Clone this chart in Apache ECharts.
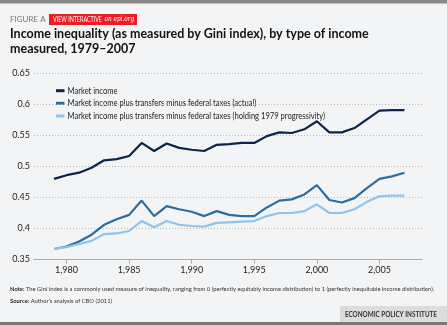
<!DOCTYPE html>
<html><head><meta charset="utf-8">
<script src="https://cdn.jsdelivr.net/npm/echarts@6/dist/echarts.min.js"></script>
<style>html,body{margin:0;padding:0;background:#f3f4f5;}#c{width:447px;height:325px;}</style>
</head><body><div id="c"></div>
<script>
const years = [1979,1980,1981,1982,1983,1984,1985,1986,1987,1988,1989,1990,1991,1992,1993,1994,1995,1996,1997,1998,1999,2000,2001,2002,2003,2004,2005,2006,2007];
const marketIncome = [0.480,0.486,0.490,0.498,0.510,0.512,0.517,0.538,0.525,0.537,0.530,0.527,0.525,0.535,0.536,0.538,0.538,0.549,0.555,0.554,0.560,0.573,0.555,0.555,0.562,0.576,0.590,0.591,0.591];
const actual = [0.367,0.371,0.379,0.390,0.406,0.415,0.422,0.445,0.420,0.436,0.431,0.427,0.420,0.428,0.422,0.420,0.420,0.434,0.445,0.447,0.455,0.470,0.446,0.442,0.449,0.465,0.480,0.484,0.490];
const holding1979 = [0.367,0.370,0.375,0.380,0.391,0.392,0.396,0.412,0.402,0.412,0.406,0.404,0.403,0.409,0.410,0.411,0.412,0.420,0.425,0.425,0.428,0.439,0.425,0.425,0.431,0.443,0.452,0.453,0.453];
const seriesNames = ['Market income','Market income plus transfers minus federal taxes (actual)','Market income plus transfers minus federal taxes (holding 1979 progressivity)'];
const xTickLabels = [1980,1985,1990,1995,2000,2005];
const yTicks = [0.35,0.4,0.45,0.5,0.55,0.6,0.65];
const colors = ['#0b2648','#2b6d9e','#8fc4ee'];

const pair = (arr) => years.map((y,i)=>[y,arr[i]]);
const fontFam = 'Lato, "Open Sans", sans-serif';
const mctx = document.createElement('canvas').getContext('2d');
function measure(text, size, weight){ mctx.font = (weight||'normal')+' '+size+'px '+fontFam; return mctx.measureText(text).width; }

// legend built as graphics (condensed text like the original)
const legendY = [90.7, 103.3, 116];
const legendScale = 0.8;
const legendGraphics = [];
seriesNames.forEach((n,i)=>{
  legendGraphics.push({type:'rect',shape:{x:56,y:legendY[i]-1.5,width:8.5,height:3},style:{fill:colors[i]}});
  legendGraphics.push({type:'text',x:67.5,y:legendY[i],scaleX:legendScale,style:{text:n,fontSize:9.5,fill:'#222',fontFamily:fontFam,verticalAlign:'middle'}});
});

const epiText = 'ECONOMIC POLICY INSTITUTE';
const epiScale = 92 / measure(epiText, 8, 'bold');
const viText = 'VIEW INTERACTIVE ';
const viW = measure(viText, 7) + (()=>{ mctx.font='italic 7.5px "DejaVu Serif", serif'; return mctx.measureText('on epi.org').width; })();
const viScale = 80 / viW;

const chart = echarts.init(document.getElementById('c'), null, {renderer:'canvas'});
chart.setOption({
  backgroundColor:'#f3f4f5',
  animation:false,
  textStyle:{fontFamily:fontFam},
  grid:{left:34,top:73.5,width:388,height:186,containLabel:false},
  xAxis:{
    type:'value', min:1977.4, max:2008.4,
    axisLine:{show:true,lineStyle:{color:'#aaa',width:1}},
    axisTick:{show:true,customValues:xTickLabels,length:4,lineStyle:{color:'#aaa'}},
    axisLabel:{customValues:xTickLabels,fontSize:9,color:'#222',margin:6,fontFamily:fontFam},
    splitLine:{show:false}
  },
  yAxis:{
    type:'value', min:0.35, max:0.65, interval:0.05,
    axisLine:{show:false}, axisTick:{show:false},
    axisLabel:{fontSize:9,color:'#222',margin:4,fontFamily:fontFam,formatter:(v)=>String(+v.toFixed(2))},
    splitLine:{show:true,lineStyle:{color:'#b8b8b8',type:[1,2],width:1}}
  },
  series:[
    {name:seriesNames[0],type:'line',data:pair(marketIncome),showSymbol:false,lineStyle:{width:2.2,color:colors[0]},itemStyle:{color:colors[0]}},
    {name:seriesNames[1],type:'line',data:pair(actual),showSymbol:false,lineStyle:{width:2.2,color:colors[1]},itemStyle:{color:colors[1]}},
    {name:seriesNames[2],type:'line',data:pair(holding1979),showSymbol:false,lineStyle:{width:2.2,color:colors[2]},itemStyle:{color:colors[2]}}
  ],
  graphic:[
    {type:'rect',shape:{x:0,y:0,width:447,height:3.5},style:{fill:'#8a8a8a'}},
    {type:'text',x:10,y:19,style:{text:'FIGURE A',fontSize:8,fill:'#777',fontFamily:fontFam,verticalAlign:'middle'}},
    {type:'rect',shape:{x:49,y:14,width:88,height:11},style:{fill:'#ee1c24'}},
    {type:'text',x:53,y:19.5,scaleX:viScale,style:{text:'{a|VIEW INTERACTIVE} {b|on epi.org}',fill:'#fff',verticalAlign:'middle',
      rich:{a:{fontSize:7,fill:'#fff',fontFamily:fontFam},b:{fontSize:7.5,fill:'#fff',fontStyle:'italic',fontFamily:'"DejaVu Serif", serif'}}}},
    {type:'text',x:10,y:26,style:{text:'Income inequality (as measured by Gini index), by type of income\nmeasured, 1979–2007',fontSize:12.5,fontWeight:'bold',fill:'#111',lineHeight:15,fontFamily:fontFam}},
    ...legendGraphics,
    {type:'text',x:10,y:289,scaleX:0.91,style:{text:'{b|Note:} The Gini index is a commonly used measure of inequality, ranging from 0 (perfectly equitably income distribution) to 1 (perfectly inequitable income distribution).',fontSize:6.4,fill:'#333',fontFamily:fontFam,verticalAlign:'middle',
      rich:{b:{fontWeight:'bold',fontSize:6.4,fill:'#222',fontFamily:fontFam}}}},
    {type:'text',x:10,y:301,scaleX:0.91,style:{text:'{b|Source:} Author\u2019s analysis of CBO (2011)',fontSize:6.4,fill:'#333',fontFamily:fontFam,verticalAlign:'middle',
      rich:{b:{fontWeight:'bold',fontSize:6.4,fill:'#222',fontFamily:fontFam}}}},
    {type:'rect',shape:{x:340,y:306,width:107,height:16},style:{fill:'#dcdcdc'}},
    {type:'text',x:345,y:314.5,scaleX:epiScale,style:{text:epiText,fontSize:8,fontWeight:'bold',fill:'#333',fontFamily:fontFam,verticalAlign:'middle'}},
    {type:'rect',shape:{x:0,y:322,width:447,height:3},style:{fill:'#777'}}
  ]
});
</script></body></html>
